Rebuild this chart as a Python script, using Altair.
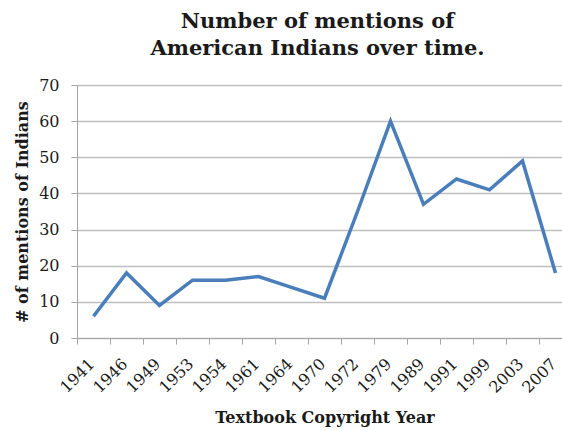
import altair as alt
import pandas as pd

years = ["1941", "1946", "1949", "1953", "1954", "1961", "1964", "1970",
         "1972", "1979", "1989", "1991", "1999", "2003", "2007"]
mentions = [6, 18, 9, 16, 16, 17, 14, 11, 35, 60, 37, 44, 41, 49, 18]

df = pd.DataFrame({"year": years, "mentions": mentions})

FONT = "DejaVu Serif"
TXT = "#1a1a1a"

chart = alt.Chart(df).mark_line(color="#4a7ebb", strokeWidth=3.5).encode(
    x=alt.X("year:O", sort=years,
            scale=alt.Scale(type="band", paddingInner=0, paddingOuter=0),
            axis=alt.Axis(title="Textbook Copyright Year", labelAngle=-45,
                          labelAlign="right", labelBaseline="middle",
                          tickBand="extent", grid=False, labelOffset=-2,
                          domainColor="#a6a6a6", tickColor="#a6a6a6",
                          tickSize=6, labelFont=FONT, labelFontSize=16,
                          labelColor=TXT, labelPadding=17,
                          titleFont=FONT, titleFontSize=16, titleFontWeight="bold",
                          titleColor=TXT, titlePadding=14)),
    y=alt.Y("mentions:Q",
            scale=alt.Scale(domain=[0, 70], nice=False),
            axis=alt.Axis(title="# of  mentions of Indians", values=list(range(0, 71, 10)),
                          gridColor="#bfbfbf", gridWidth=1.3,
                          domainColor="#a6a6a6", tickColor="#a6a6a6", tickSize=6,
                          labelFont=FONT, labelFontSize=16, labelColor=TXT,
                          labelPadding=12,
                          titleFont=FONT, titleFontSize=16, titleFontWeight="bold",
                          titleColor=TXT, titlePadding=8)),
).properties(
    width=495, height=253,
    title=alt.TitleParams(["Number of mentions of", "American Indians over time."],
                          font=FONT, fontSize=21, fontWeight="bold", color=TXT,
                          anchor="middle", offset=18, lineHeight=27, dx=-7),
    autosize=alt.AutoSizeParams(type="none"),
    padding={"left": 77, "top": 85, "right": -10, "bottom": 92},
).configure_view(stroke=None).configure(background="white")

chart.save("out.html", embed_options={"renderer": "svg", "actions": False})
